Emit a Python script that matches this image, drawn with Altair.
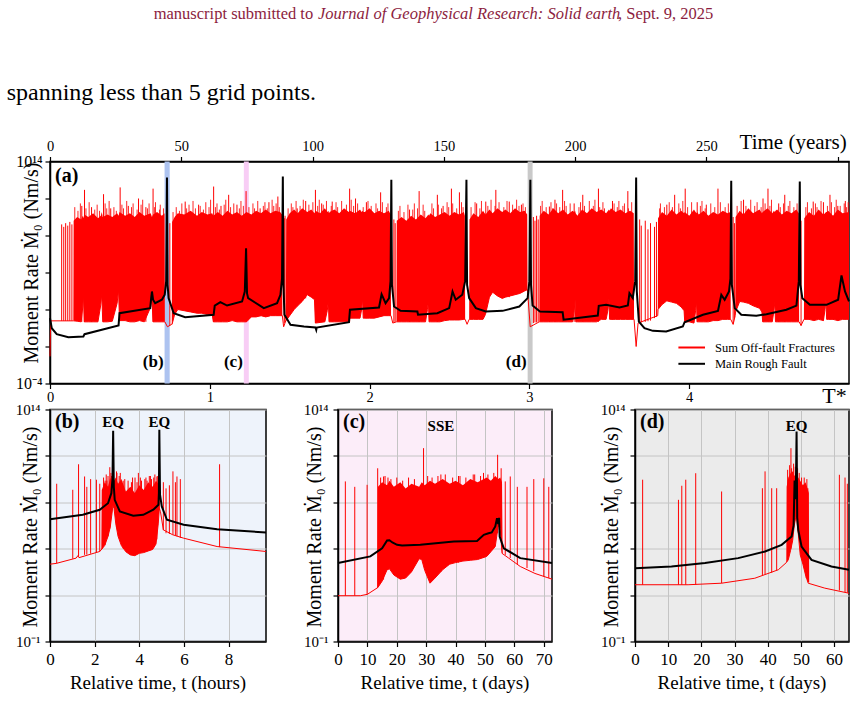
import altair as alt
import pandas as pd

SERIF = "Liberation Serif"
RED = "#ff0000"
HEAD_RED = "#8c1d40"

# ------------------------------------------------------------------
# (a) whole run against normalised time T* (log10 moment rate values)
# ------------------------------------------------------------------
T_STAR_END = 5.0
YEARS_AT_END = 304.3
TSTAR_TICKS = [0, 1, 2, 3, 4]
YEAR_TICKS = [0, 50, 100, 150, 200, 250, 300]

# main rough fault: (T*, log10 Mdot)
FAULT_A = [
    (0.000, 1.3), (0.011, 0.48), (0.042, 0.0), (0.115, -0.25), (0.209, -0.19),
    (0.216, 0.0), (0.429, 0.70), (0.435, 1.70), (0.627, 2.11), (0.633, 2.9),
    (0.638, 3.46), (0.645, 2.8), (0.658, 2.51), (0.700, 2.79), (0.718, 3.2),
    (0.727, 4.3), (0.732, 12.7), (0.736, 4.0), (0.742, 2.92), (0.774, 1.70),
    (0.846, 1.38), (1.024, 1.57), (1.031, 2.32), (1.066, 2.59), (1.108, 2.32),
    (1.202, 2.65), (1.219, 3.46), (1.227, 6.97), (1.233, 3.3), (1.240, 2.92),
    (1.338, 2.11), (1.421, 2.51), (1.442, 3.19), (1.452, 4.5), (1.457, 12.78),
    (1.461, 4.0), (1.467, 1.57), (1.505, 0.76), (1.589, 0.62), (1.661, 0.54),
    (1.666, 0.35), (1.669, 0.54), (1.871, 0.97), (1.877, 1.98), (2.059, 2.16),
    (2.075, 3.24), (2.100, 2.51), (2.122, 2.92), (2.131, 4.3), (2.136, 12.52),
    (2.140, 4.0), (2.153, 2.24), (2.194, 1.89), (2.299, 1.84), (2.303, 1.57),
    (2.424, 1.70), (2.498, 2.11), (2.519, 3.46), (2.539, 2.79), (2.580, 3.2),
    (2.598, 4.3), (2.606, 12.52), (2.610, 4.0), (2.623, 2.92), (2.665, 2.11),
    (2.727, 1.84), (2.832, 1.89), (2.937, 2.24), (2.989, 2.92), (3.000, 4.3),
    (3.006, 12.52), (3.010, 4.0), (3.020, 2.32), (3.066, 1.84), (3.208, 1.78),
    (3.214, 1.17), (3.428, 1.51), (3.434, 2.30), (3.480, 2.38), (3.564, 2.16),
    (3.616, 2.32), (3.626, 3.32), (3.647, 2.92), (3.662, 4.3), (3.668, 12.70),
    (3.672, 3.5), (3.685, 1.02), (3.720, 0.48), (3.773, 0.27), (3.856, 0.21),
    (3.960, 0.62), (3.971, 0.97), (4.086, 1.57), (4.180, 1.89), (4.201, 3.19),
    (4.222, 2.79), (4.249, 3.46), (4.258, 4.5), (4.263, 12.43), (4.267, 4.0),
    (4.285, 2.11), (4.326, 1.57), (4.420, 1.49), (4.483, 1.62), (4.608, 1.98),
    (4.671, 2.32), (4.686, 4.3), (4.692, 12.38), (4.696, 4.0), (4.708, 2.92),
    (4.755, 2.38), (4.859, 2.38), (4.932, 2.79), (4.953, 4.76), (4.975, 3.46),
    (5.000, 2.65),
]

# summed off-fault fractures: dense band (T*, upper envelope, lower envelope)
FRAC_A = [
    (0.000, -1.8, -1.8), (0.004, 1.08, 1.08), (0.146, 1.08, 1.08),
    (0.148, 9.2, 1.08), (0.170, 9.5, 1.05), (0.195, 9.3, 1.0), (0.205, 9.6, 2.2),
    (0.209, 9.4, 3.3), (0.214, 9.7, 1.0), (0.240, 9.5, 1.0), (0.270, 9.8, 1.0),
    (0.300, 9.4, 1.0), (0.318, 9.6, 2.4), (0.324, 9.9, 3.3), (0.330, 9.5, 1.0),
    (0.360, 9.7, 1.0), (0.390, 9.5, 1.05), (0.420, 9.8, 2.5), (0.429, 9.6, 3.6),
    (0.435, 9.9, 1.1), (0.470, 9.6, 1.1), (0.500, 9.8, 1.0), (0.530, 9.5, 1.0),
    (0.560, 9.9, 1.1), (0.590, 9.6, 1.0), (0.630, 9.8, 2.2), (0.638, 9.5, 2.9),
    (0.645, 9.7, 1.0), (0.670, 9.9, 1.0), (0.700, 9.6, 1.0), (0.717, 9.8, 1.0),
    (0.719, 1.0, 1.0), (0.735, 0.6, 0.6), (0.762, 0.8, 0.8),
    (0.764, 9.1, 0.8), (0.780, 9.5, 1.6), (0.800, 9.8, 2.0), (0.840, 9.7, 1.9),
    (0.880, 10.0, 1.8), (0.920, 9.6, 1.7), (0.950, 9.9, 1.7), (0.985, 9.7, 1.6),
    (1.015, 9.8, 1.6), (1.022, 9.6, 1.0), (1.050, 9.9, 1.0), (1.080, 9.6, 1.0),
    (1.110, 10.0, 1.0), (1.140, 9.7, 1.1), (1.170, 9.9, 1.0), (1.200, 9.6, 1.0),
    (1.230, 9.9, 1.0), (1.260, 9.7, 1.4), (1.290, 10.0, 1.4), (1.320, 9.8, 1.5),
    (1.350, 10.1, 1.4), (1.380, 9.8, 1.5), (1.410, 10.0, 1.5), (1.440, 9.9, 1.5),
    (1.452, 9.7, 1.5), (1.454, 1.5, 1.5), (1.462, 0.6, 0.6), (1.476, 1.1, 1.1),
    (1.478, 9.3, 1.1), (1.500, 9.8, 1.5), (1.528, 10.1, 2.0), (1.550, 9.8, 2.3),
    (1.578, 10.2, 2.65), (1.610, 9.9, 3.2), (1.635, 10.1, 3.0), (1.655, 9.8, 2.8),
    (1.661, 10.0, 0.9), (1.690, 9.8, 0.95), (1.720, 10.2, 1.0), (1.735, 9.9, 1.9),
    (1.742, 10.0, 2.7), (1.746, 9.8, 1.0), (1.750, 9.9, 1.0), (1.780, 10.1, 1.0),
    (1.810, 9.8, 1.0), (1.840, 10.2, 1.0), (1.870, 9.9, 1.0), (1.876, 10.0, 1.3),
    (1.910, 9.8, 1.3), (1.940, 10.1, 1.3), (1.950, 9.9, 2.0), (1.956, 10.0, 2.9),
    (1.960, 9.9, 1.3), (1.970, 9.9, 1.3), (2.000, 10.2, 1.3), (2.030, 9.8, 1.3),
    (2.060, 10.0, 1.4), (2.090, 9.8, 1.5), (2.120, 10.0, 1.5), (2.132, 9.7, 1.5),
    (2.134, 1.5, 1.5), (2.145, 0.9, 0.9), (2.168, 1.0, 1.0),
    (2.170, 9.2, 1.0), (2.200, 9.5, 1.0), (2.230, 9.2, 1.0), (2.260, 9.6, 1.0),
    (2.290, 9.3, 1.0), (2.320, 9.7, 1.0), (2.350, 9.4, 1.0), (2.362, 9.6, 2.0),
    (2.368, 9.7, 2.7), (2.372, 9.6, 1.0), (2.380, 9.8, 1.0), (2.410, 9.5, 1.0),
    (2.440, 9.7, 1.0), (2.470, 9.9, 1.1), (2.500, 9.6, 1.15), (2.530, 9.9, 1.15),
    (2.560, 9.7, 1.15), (2.590, 9.9, 1.2), (2.596, 9.6, 1.2), (2.598, 1.2, 1.2),
    (2.610, 0.8, 0.8), (2.623, 1.2, 1.2),
    (2.625, 9.3, 1.2), (2.650, 9.8, 1.2), (2.680, 9.5, 1.2), (2.710, 10.0, 1.2),
    (2.725, 9.7, 1.6), (2.750, 10.1, 3.0), (2.770, 9.8, 3.4), (2.800, 10.2, 3.1),
    (2.830, 9.9, 2.9), (2.850, 10.1, 3.0), (2.880, 9.8, 3.1), (2.910, 10.2, 3.2),
    (2.940, 9.9, 3.3), (2.970, 10.0, 3.5), (2.986, 9.7, 3.6), (2.988, 3.6, 3.6),
    (3.005, 0.6, 0.6), (3.062, 1.0, 1.0),
    (3.064, 9.6, 1.0), (3.090, 10.0, 1.0), (3.120, 9.7, 1.0), (3.150, 10.2, 1.0),
    (3.180, 9.8, 1.0), (3.210, 10.1, 1.0), (3.240, 9.7, 1.0), (3.270, 10.0, 1.0),
    (3.280, 9.9, 1.9), (3.286, 10.0, 2.8), (3.290, 9.8, 1.0), (3.300, 9.6, 1.0),
    (3.330, 10.1, 1.0), (3.360, 9.8, 1.0), (3.390, 10.2, 1.0), (3.420, 9.9, 1.0),
    (3.450, 10.1, 1.2), (3.480, 9.8, 1.2), (3.492, 10.0, 2.0), (3.498, 10.1, 2.9),
    (3.502, 10.0, 1.2), (3.510, 10.2, 1.2), (3.540, 9.9, 1.2), (3.570, 10.1, 1.2),
    (3.600, 9.8, 1.2), (3.630, 10.0, 1.2), (3.653, 9.8, 1.2), (3.655, 1.2, 1.2),
    (3.668, -1.0, -1.0), (3.680, 0.9, 0.9), (3.803, 1.5, 1.5),
    (3.805, 9.4, 2.0), (3.830, 9.9, 2.4), (3.860, 9.6, 2.7), (3.890, 10.1, 2.6),
    (3.920, 9.7, 2.5), (3.950, 10.0, 2.2), (3.968, 9.8, 1.9), (3.972, 9.9, 1.0),
    (4.000, 9.6, 1.0), (4.030, 10.1, 0.9), (4.040, 9.9, 1.9), (4.046, 9.8, 2.7),
    (4.050, 9.9, 1.0), (4.060, 9.7, 1.0), (4.090, 10.0, 1.0), (4.120, 9.6, 1.0),
    (4.150, 9.9, 1.1), (4.180, 9.7, 1.1), (4.210, 10.0, 1.2), (4.240, 9.8, 1.2),
    (4.258, 9.9, 1.2), (4.260, 1.2, 1.2), (4.275, 0.8, 0.8), (4.288, 1.5, 1.5),
    (4.290, 9.5, 1.8), (4.316, 10.0, 2.65), (4.340, 9.7, 2.6), (4.370, 10.2, 2.5),
    (4.400, 9.8, 2.3), (4.440, 10.1, 2.1), (4.455, 9.8, 1.8), (4.460, 9.9, 1.0),
    (4.490, 10.2, 1.0), (4.520, 9.8, 1.0), (4.530, 10.0, 1.9), (4.536, 9.9, 2.6),
    (4.540, 10.0, 1.0), (4.550, 10.1, 1.0), (4.580, 9.7, 1.0), (4.610, 10.0, 1.0),
    (4.640, 9.8, 1.0), (4.670, 10.1, 1.0), (4.686, 9.8, 1.0), (4.688, 1.0, 1.0),
    (4.700, 0.7, 0.7), (4.718, 1.2, 1.2),
    (4.720, 9.4, 1.2), (4.750, 9.9, 1.2), (4.780, 9.6, 1.1), (4.810, 10.1, 1.2),
    (4.840, 9.7, 1.1), (4.850, 9.8, 2.0), (4.856, 9.9, 2.8), (4.860, 9.9, 1.2),
    (4.870, 10.0, 1.2), (4.900, 9.6, 1.2), (4.930, 10.1, 1.1), (4.960, 9.8, 1.2),
    (5.000, 9.9, 1.2),
]

# individual fracture bursts: (T*, peak, foot)
BURST_A = [
    (0.073, 8.9, 1.08), (0.086, 8.7, 1.08), (0.098, 9.0, 1.08), (0.111, 8.8, 1.08),
    (0.124, 9.1, 1.08), (0.137, 8.9, 1.08), (0.199, 10.4, 1.0), (0.216, 11.7, 1.0),
    (0.260, 10.3, 1.0), (0.335, 11.35, 1.0), (0.380, 10.2, 1.0), (0.439, 11.9, 1.1),
    (0.490, 10.4, 1.0), (0.554, 11.0, 1.1), (0.600, 10.3, 1.0), (0.645, 11.8, 1.0),
    (0.750, 9.0, 0.7), (0.846, 10.75, 1.9), (0.930, 10.5, 1.7), (1.024, 11.97, 1.0),
    (1.070, 10.4, 1.0), (1.118, 11.3, 1.0), (1.170, 10.5, 1.0), (1.227, 11.6, 1.0),
    (1.315, 10.2, 1.45), (1.370, 10.7, 1.45), (1.426, 11.16, 1.5), (1.466, 9.4, 0.9),
    (1.471, 9.6, 1.0), (1.547, 10.2, 2.3), (1.600, 10.8, 2.9), (1.661, 11.7, 0.9),
    (1.700, 10.6, 1.0), (1.766, 10.75, 1.0), (1.875, 11.8, 1.0), (1.912, 11.0, 1.3),
    (1.980, 10.7, 1.3), (2.069, 11.5, 1.4), (2.152, 9.3, 0.95), (2.160, 9.0, 1.0),
    (2.250, 10.1, 1.0), (2.310, 11.6, 1.0), (2.424, 11.3, 1.0), (2.460, 10.4, 1.1),
    (2.512, 11.8, 1.15), (2.562, 11.5, 1.15), (2.670, 10.6, 1.2), (2.727, 10.75, 1.8),
    (2.790, 11.7, 3.3), (2.874, 10.75, 3.0), (2.950, 10.5, 3.4), (3.025, 9.5, 0.9),
    (3.035, 9.2, 0.95), (3.045, 9.6, 0.95), (3.055, 9.3, 1.0), (3.125, 10.35, 1.0),
    (3.160, 10.9, 1.0), (3.208, 11.7, 1.0), (3.280, 10.6, 1.0), (3.334, 11.3, 1.0),
    (3.432, 11.8, 1.0), (3.520, 10.8, 1.2), (3.616, 11.6, 1.2), (3.690, 9.3, 0.9),
    (3.700, 8.8, 0.95), (3.725, 9.2, 1.0), (3.742, 8.5, 1.05), (3.758, 9.0, 1.1),
    (3.783, 8.7, 1.3), (3.795, 9.1, 1.4), (3.860, 10.5, 2.7), (3.909, 11.3, 2.55),
    (3.975, 11.8, 1.0), (4.050, 10.7, 1.0), (4.107, 10.5, 1.0), (4.180, 11.8, 1.1),
    (4.275, 9.5, 0.8), (4.283, 9.0, 1.3), (4.340, 10.9, 2.6), (4.462, 11.0, 1.0),
    (4.493, 11.8, 1.0), (4.560, 10.6, 1.0), (4.598, 11.3, 1.0), (4.700, 9.2, 0.7),
    (4.776, 10.75, 1.15), (4.840, 10.7, 1.1), (4.881, 11.3, 1.2), (4.930, 10.4, 1.1),
    (4.977, 10.8, 1.2),
]

# ragged fringe of short events along the top of the band: (T*, peak)
FRINGE_A = [
    (0.155, 10.3), (0.175, 10.0), (0.190, 10.6), (0.225, 10.2), (0.245, 10.7),
    (0.280, 10.1), (0.295, 10.5), (0.310, 10.0), (0.345, 10.6), (0.355, 10.2),
    (0.370, 10.8), (0.400, 10.3), (0.415, 10.0), (0.450, 10.5), (0.460, 10.2),
    (0.480, 10.8), (0.510, 10.3), (0.520, 10.6), (0.545, 10.1), (0.570, 10.5),
    (0.580, 10.9), (0.610, 10.2), (0.620, 10.6), (0.655, 10.3), (0.660, 10.7),
    (0.685, 10.1), (0.690, 10.5), (0.710, 10.2),
    (0.770, 9.9), (0.790, 10.3), (0.810, 10.0), (0.825, 10.6), (0.855, 10.2),
    (0.870, 10.5), (0.895, 10.8), (0.910, 10.2), (0.940, 10.4), (0.960, 10.1),
    (0.975, 10.7), (0.995, 10.3), (1.005, 10.9), (1.035, 10.3), (1.045, 10.6),
    (1.060, 10.1), (1.090, 10.5), (1.100, 10.9), (1.130, 10.3), (1.150, 10.6),
    (1.185, 10.2), (1.195, 10.8), (1.210, 10.4), (1.245, 10.3), (1.270, 10.6),
    (1.280, 10.2), (1.300, 10.8), (1.335, 10.4), (1.345, 10.7), (1.360, 10.2),
    (1.390, 10.9), (1.400, 10.4), (1.415, 10.6), (1.435, 10.3),
    (1.490, 10.2), (1.510, 10.6), (1.520, 10.3), (1.540, 10.8), (1.565, 10.4),
    (1.585, 10.9), (1.620, 10.5), (1.645, 10.7), (1.675, 10.4), (1.685, 10.9),
    (1.710, 10.5), (1.730, 10.8), (1.760, 10.4), (1.790, 10.7), (1.800, 10.3),
    (1.825, 10.8), (1.855, 10.5), (1.885, 10.9), (1.900, 10.4), (1.925, 10.6),
    (1.960, 10.3), (1.990, 10.8), (2.010, 10.4), (2.040, 10.6), (2.050, 10.2),
    (2.080, 10.7), (2.105, 10.3), (2.115, 10.6),
    (2.180, 10.0), (2.190, 10.4), (2.215, 9.9), (2.240, 10.5), (2.270, 10.1),
    (2.280, 10.6), (2.300, 10.2), (2.335, 10.5), (2.345, 10.0), (2.390, 10.6),
    (2.400, 10.2), (2.430, 10.5), (2.450, 10.2), (2.485, 10.7), (2.495, 10.3),
    (2.520, 10.6), (2.545, 10.2), (2.575, 10.7), (2.585, 10.3),
    (2.635, 10.3), (2.660, 10.7), (2.690, 10.2), (2.700, 10.8), (2.740, 10.4),
    (2.760, 10.9), (2.785, 10.4), (2.810, 10.7), (2.840, 10.3), (2.860, 10.8),
    (2.895, 10.5), (2.920, 10.9), (2.935, 10.4), (2.960, 10.6), (2.975, 10.3),
    (3.070, 10.4), (3.080, 10.8), (3.105, 10.3), (3.135, 10.7), (3.145, 10.2),
    (3.170, 10.6), (3.190, 10.3), (3.220, 10.8), (3.230, 10.4), (3.255, 10.6),
    (3.310, 10.3), (3.320, 10.7), (3.345, 10.4), (3.375, 10.8), (3.400, 10.4),
    (3.410, 10.9), (3.440, 10.3), (3.460, 10.7), (3.470, 10.2), (3.530, 10.6),
    (3.550, 10.3), (3.560, 10.8), (3.585, 10.4), (3.595, 10.6), (3.620, 10.2),
    (3.640, 10.7),
    (3.815, 10.2), (3.820, 10.6), (3.845, 10.3), (3.875, 10.7), (3.895, 10.3),
    (3.935, 10.6), (3.945, 10.2), (3.960, 10.8), (3.990, 10.3), (4.015, 10.7),
    (4.070, 10.4), (4.080, 10.8), (4.100, 10.2), (4.135, 10.6), (4.160, 10.3),
    (4.195, 10.7), (4.225, 10.3), (4.245, 10.6),
    (4.300, 10.4), (4.325, 10.8), (4.355, 10.4), (4.385, 10.9), (4.410, 10.4),
    (4.425, 10.7), (4.450, 10.3), (4.475, 10.6), (4.505, 10.4), (4.515, 10.9),
    (4.570, 10.3), (4.590, 10.6), (4.620, 10.4), (4.630, 10.8), (4.655, 10.3),
    (4.675, 10.6),
    (4.730, 10.3), (4.740, 10.7), (4.765, 10.2), (4.790, 10.6), (4.800, 10.3),
    (4.825, 10.8), (4.865, 10.4), (4.890, 10.7), (4.910, 10.3), (4.920, 10.9),
    (4.945, 10.4), (4.970, 10.6), (4.985, 10.3), (4.995, 10.7),
]
FRINGE_A_FOOT = 8.5

# windows zoomed in the lower panels
WIN_NAME = ["(b)", "(c)", "(d)"]
WIN_T0 = [0.717, 1.213, 2.989]
WIN_T1 = [0.749, 1.244, 3.020]
WIN_COLOR = ["#adc3f0", "#f8cdf5", "#c9c9c9"]

# ------------------------------------------------------------------
# (b) two earthquakes, time in hours
# ------------------------------------------------------------------
FAULT_B = [
    (0.0, 6.91), (1.47, 7.19), (2.23, 7.52), (2.60, 7.94), (2.75, 8.59), (2.80, 9.5),
    (2.83, 12.62), (2.86, 9.0), (2.90, 8.16), (3.13, 7.41), (3.73, 7.13), (4.18, 7.19),
    (4.63, 7.52), (4.86, 7.84), (4.88, 8.6), (4.90, 12.69), (4.93, 8.5), (5.01, 7.73),
    (5.24, 6.87), (5.99, 6.55), (7.49, 6.26), (9.68, 6.05),
]
FLOOR_B = [
    (0.0, 4.0), (0.28, 4.05), (1.17, 4.39), (1.25, 4.55), (1.30, 4.42), (2.23, 4.82),
    (2.45, 5.2), (2.60, 5.8), (2.70, 6.4), (2.78, 7.3), (2.82, 7.8), (2.87, 7.6),
    (2.95, 6.6), (3.05, 5.8), (3.20, 5.2), (3.40, 4.8), (3.60, 4.6), (3.80, 4.55),
    (4.00, 4.7), (4.20, 4.75), (4.40, 4.85), (4.60, 4.95), (4.75, 5.3), (4.85, 6.6),
    (4.90, 7.6), (4.95, 7.4), (5.08, 6.22), (5.50, 5.9), (5.99, 5.68), (7.49, 5.14),
    (9.68, 4.82),
]
BAND_B = [
    (2.30, 4.9, 4.9), (2.32, 8.8, 4.95), (2.45, 9.3, 5.2), (2.60, 9.0, 5.8),
    (2.70, 9.6, 6.4), (2.78, 9.2, 7.3), (2.82, 9.5, 7.8), (2.87, 9.4, 7.6),
    (2.95, 9.6, 6.6), (3.05, 9.2, 5.8), (3.20, 9.5, 5.2), (3.40, 8.7, 4.8),
    (3.60, 9.0, 4.6), (3.80, 8.6, 4.55), (4.00, 9.1, 4.7), (4.20, 8.8, 4.75),
    (4.40, 9.3, 4.85), (4.60, 9.0, 4.95), (4.75, 9.4, 5.3), (4.85, 9.2, 6.6),
    (4.90, 9.3, 7.6), (4.93, 7.5, 7.5),
]
BURST_B = [
    (0.30, 9.2, 4.05), (1.02, 8.81, 4.35), (1.28, 10.46, 4.5), (1.55, 9.67, 4.6),
    (1.65, 9.0, 4.62), (1.82, 9.5, 4.68), (2.08, 9.46, 4.78), (2.23, 9.2, 4.82),
    (2.35, 8.8, 5.0), (2.47, 9.4, 5.25), (2.60, 9.7, 5.8), (2.68, 10.27, 6.3),
    (2.98, 10.0, 6.4), (3.28, 9.4, 5.0), (3.81, 9.6, 4.6), (3.96, 9.9, 4.7),
    (4.25, 9.5, 4.8), (4.45, 9.7, 4.9), (4.79, 9.67, 5.6), (5.08, 9.3, 6.2),
    (5.20, 8.9, 6.0), (5.35, 9.1, 5.95), (5.51, 10.0, 5.9), (5.62, 9.3, 5.85),
    (5.69, 9.67, 5.8), (5.84, 9.5, 5.7), (7.60, 10.46, 5.1),
    (2.40, 9.6, 8.3), (2.52, 9.8, 8.3), (2.55, 9.4, 8.3), (2.73, 9.9, 8.3),
    (2.76, 9.7, 8.3), (3.00, 9.9, 8.3), (3.10, 9.7, 8.3), (3.15, 9.9, 8.3),
    (3.35, 9.5, 8.3), (3.50, 9.4, 8.3), (3.65, 9.3, 8.3), (3.70, 9.6, 8.3),
    (3.90, 9.3, 8.3), (4.05, 9.6, 8.3), (4.10, 9.4, 8.3), (4.30, 9.6, 8.3),
    (4.35, 9.4, 8.3), (4.50, 9.7, 8.3), (4.55, 9.5, 8.3), (4.65, 9.6, 8.3),
    (4.70, 9.8, 8.3), (4.83, 9.7, 8.3),
]
NOTES_B = [(2.83, "EQ"), (4.90, "EQ")]

# ------------------------------------------------------------------
# (c) slow slip event, time in days
# ------------------------------------------------------------------
FAULT_C = [
    (0.0, 4.07), (11.0, 4.5), (15.0, 5.03), (16.7, 5.53), (17.5, 5.55), (18.5, 5.4),
    (20.1, 5.25), (21.8, 5.2), (28.0, 5.25), (39.4, 5.47), (47.3, 5.5), (49.6, 5.9),
    (51.2, 6.0), (52.3, 6.05), (53.5, 6.44), (54.1, 6.97), (54.5, 6.6), (54.8, 7.0),
    (55.0, 5.79), (56.4, 5.03), (62.0, 4.39), (72.8, 4.07),
]
FLOOR_C = [
    (0.0, 1.96), (7.6, 1.96), (10.0, 2.05), (13.3, 2.46), (13.6, 2.5), (15.0, 2.9),
    (16.7, 3.64), (17.5, 3.7), (19.0, 3.3), (21.2, 3.03), (23.0, 3.1), (25.0, 3.5),
    (27.6, 4.35), (28.5, 4.3), (29.5, 3.6), (31.3, 2.77), (33.0, 3.1), (35.6, 3.64),
    (38.0, 4.0), (40.0, 4.1), (42.5, 4.2), (45.0, 4.25), (47.5, 4.3), (50.6, 4.5),
    (52.0, 4.8), (53.5, 5.14), (54.5, 6.5), (55.2, 6.3), (55.8, 4.7), (58.0, 4.4),
    (62.0, 3.85), (67.0, 3.4), (72.8, 3.03),
]
BAND_C = [
    (13.4, 2.45, 2.45), (13.6, 9.0, 2.5), (15.0, 9.3, 2.9), (16.7, 9.1, 3.64),
    (17.5, 9.4, 3.7), (19.0, 9.0, 3.3), (21.2, 9.3, 3.03), (23.0, 8.9, 3.1),
    (25.0, 9.2, 3.5), (27.6, 9.0, 4.35), (28.5, 9.3, 4.3), (29.5, 9.1, 3.6),
    (31.3, 9.4, 2.77), (33.0, 9.2, 3.1), (35.6, 9.5, 3.64), (38.0, 9.2, 4.0),
    (40.0, 9.4, 4.1), (42.5, 9.1, 4.2), (45.0, 9.5, 4.25), (47.5, 9.3, 4.3),
    (50.6, 9.6, 4.5), (52.0, 9.4, 4.8), (53.5, 9.7, 5.14), (54.5, 9.5, 6.5),
    (55.2, 9.6, 6.3), (55.8, 9.3, 4.7), (56.0, 4.7, 4.7),
]
BURST_C = [
    (2.5, 9.35, 1.96), (5.7, 9.0, 1.96), (9.9, 9.13, 2.04), (13.5, 10.2, 2.46),
    (15.5, 9.67, 3.0), (17.0, 9.6, 3.65), (29.1, 11.5, 4.0), (35.0, 9.8, 3.5),
    (41.0, 9.7, 4.1), (46.5, 9.8, 4.28), (54.3, 11.07, 6.0), (56.9, 9.35, 4.6),
    (58.6, 9.67, 4.4), (61.0, 9.0, 4.0), (64.3, 9.0, 3.75), (66.6, 9.5, 3.55),
    (70.0, 9.55, 3.2), (71.7, 9.0, 3.1),
    (14.5, 9.6, 8.5), (16.0, 9.7, 8.5), (18.0, 9.5, 8.5), (20.0, 9.6, 8.5),
    (22.0, 9.4, 8.5), (24.0, 9.6, 8.5), (26.0, 9.5, 8.5), (30.5, 9.7, 8.5),
    (32.0, 9.6, 8.5), (34.0, 9.7, 8.5), (36.5, 9.8, 8.5), (39.0, 9.6, 8.5),
    (41.5, 9.7, 8.5), (43.5, 9.6, 8.5), (46.0, 9.8, 8.5), (48.5, 9.7, 8.5),
    (49.5, 9.9, 8.5), (51.0, 9.8, 8.5), (53.0, 9.9, 8.5), (55.5, 10.2, 8.5),
]
NOTES_C = [(35.0, "SSE")]

# ------------------------------------------------------------------
# (d) earthquake preceded by quiescence, time in days
# ------------------------------------------------------------------
FAULT_D = [
    (0.0, 3.74), (11.0, 3.85), (21.1, 4.07), (31.1, 4.39), (39.2, 4.82), (44.2, 5.25),
    (47.2, 5.79), (47.8, 6.5), (48.1, 9.4), (48.3, 8.2), (48.5, 9.0), (48.7, 12.58),
    (48.9, 7.0), (49.2, 6.22), (50.2, 5.14), (53.2, 4.28), (59.2, 3.85), (64.5, 3.64),
]
FLOOR_D = [
    (0.0, 2.67), (16.0, 2.67), (26.1, 2.77), (36.1, 3.09), (43.2, 3.64), (45.6, 4.1),
    (46.2, 4.28), (46.9, 4.9), (47.5, 5.5), (48.0, 6.5), (48.6, 7.2), (49.2, 6.0),
    (49.8, 4.6), (50.6, 4.0), (51.4, 3.3), (52.2, 2.77), (57.2, 2.45), (64.5, 2.12),
]
BAND_D = [
    (45.6, 4.1, 4.1), (45.7, 9.0, 4.1), (46.2, 9.6, 4.28), (46.9, 9.9, 4.9),
    (47.5, 10.0, 5.5), (48.0, 9.7, 6.5), (48.6, 9.9, 7.2), (49.2, 9.6, 6.0),
    (49.8, 9.4, 4.6), (50.6, 9.1, 4.0), (51.4, 9.3, 3.3), (52.0, 8.9, 2.9),
    (52.4, 8.6, 2.8), (52.5, 2.8, 2.8),
]
BURST_D = [
    (2.3, 9.46, 2.67), (13.1, 8.16, 2.67), (14.1, 9.07, 2.67), (15.3, 9.46, 2.67),
    (18.3, 9.88, 2.68), (26.1, 8.7, 2.77), (38.4, 8.91, 3.3), (39.2, 10.0, 3.35),
    (41.2, 8.91, 3.45), (42.7, 8.91, 3.6), (47.0, 11.5, 5.0), (51.6, 9.07, 3.1),
    (52.1, 8.91, 2.9), (61.6, 9.78, 2.3), (63.3, 9.6, 2.2), (64.0, 9.2, 2.15),
    (46.0, 10.1, 8.5), (46.6, 10.4, 8.5), (47.2, 10.2, 8.5), (47.8, 10.5, 8.5),
    (48.3, 10.3, 8.5), (49.0, 10.2, 8.5), (49.5, 9.9, 8.5), (50.2, 9.6, 8.5),
    (51.0, 9.6, 8.5), (51.8, 9.5, 8.5),
]
NOTES_D = [(48.7, "EQ")]

Y_TITLE = "Moment Rate Ṁ₀ (Nm/s)"


def table(rows, cols, log_cols):
    df = pd.DataFrame(rows, columns=cols)
    for c in log_cols:
        df[c] = 10.0 ** df[c]
    return df


def text_at(s, x, y, size, weight="normal", align="left", baseline="middle",
            color="black", style="normal", angle=0):
    kw = dict(font=SERIF, fontSize=size, fontWeight=weight, align=align,
              baseline=baseline, color=color, fontStyle=style)
    if angle:
        kw["angle"] = angle
    return alt.Chart(pd.DataFrame({"s": [s]})).mark_text(**kw).encode(
        text="s:N", x=alt.value(x), y=alt.value(y))


# ------------------------------- panel (a)
W_A, H_A = 799, 222

xa_scale = alt.Scale(domain=[0, T_STAR_END], nice=False, zero=False)
xa_axis = alt.Axis(values=TSTAR_TICKS, title=None, grid=False, labelFontSize=14.5,
                   tickSize=5, labelPadding=2, labelFlush=False, labelOverlap=False)
ya_scale = alt.Scale(type="log", domain=[1e-4, 1e14], nice=False)
ya_axis = alt.Axis(values=[1e-4, 1e-1, 1e2, 1e5, 1e8, 1e11, 1e14], title=None,
                   grid=False, labelFontSize=16, tickSize=5, labelPadding=3,
                   labelFlush=False, labelOverlap=False,
                   labelExpr="datum.value > 1e13 ? '10¹⁴' : (datum.value < 1e-3 ? '10⁻⁴' : '')")


def xa(field):
    return alt.X(f"{field}:Q", scale=xa_scale, axis=xa_axis)


def ya(field):
    return alt.Y(f"{field}:Q", scale=ya_scale, axis=ya_axis)


fault_a = table(FAULT_A, ["t", "v"], ["v"])
frac_a = table(FRAC_A, ["t", "top", "floor"], ["top", "floor"])
burst_a = table(BURST_A, ["t", "top", "base"], ["top", "base"])
fringe_a = table(FRINGE_A, ["t", "top"], ["top"])
fringe_a["base"] = 10.0 ** FRINGE_A_FOOT
win_df = pd.DataFrame({"name": WIN_NAME, "t0": WIN_T0, "t1": WIN_T1, "c": WIN_COLOR})

windows = alt.Chart(win_df).mark_rect().encode(
    x=xa("t0"), x2="t1:Q", y=alt.value(0), y2=alt.value(H_A),
    color=alt.Color("c:N", scale=None))
band_a = alt.Chart(frac_a).mark_area(color=RED, opacity=1).encode(
    x=xa("t"), y=ya("top"), y2="floor:Q")
floor_a = alt.Chart(frac_a).mark_line(color=RED, strokeWidth=1).encode(
    x=xa("t"), y=ya("floor"))
fringe_rules = alt.Chart(fringe_a).mark_rule(color=RED, strokeWidth=1, opacity=0.85).encode(
    x=xa("t"), y=ya("top"), y2="base:Q")
bursts_a = alt.Chart(burst_a).mark_rule(color=RED, strokeWidth=1).encode(
    x=xa("t"), y=ya("top"), y2="base:Q")
line_a = alt.Chart(fault_a).mark_line(color="black", strokeWidth=2).encode(
    x=xa("t"), y=ya("v"))
win_labels = alt.Chart(win_df).mark_text(
    font=SERIF, fontSize=17, fontWeight="bold", align="right", baseline="middle", dx=-1
).encode(x=xa("t0"), y=alt.value(200.7), text="name:N")

years = alt.Chart(pd.DataFrame({"yr": YEAR_TICKS})).mark_point(opacity=0).encode(
    x=alt.X("yr:Q", scale=alt.Scale(domain=[0, YEARS_AT_END], nice=False, zero=False),
            axis=alt.Axis(orient="top", values=YEAR_TICKS, title=None, grid=False,
                          labelFontSize=14.5, tickSize=5, labelPadding=3,
                          labelFlush=False, labelOverlap=False,
                          labelExpr="datum.value == 300 ? '' : datum.label")))

legend_lines = [
    alt.Chart(pd.DataFrame({"k": [0]})).mark_rule(color=col, strokeWidth=2).encode(
        x=alt.value(628.4), x2=alt.value(655), y=alt.value(yy))
    for col, yy in [(RED, 186), ("black", 202.3)]
]
legend_text = [
    text_at("Sum Off-fault Fractures", 665, 186, 12.5),
    text_at("Main Rough Fault", 665, 202.3, 12.5),
]

# running header of the page: plain / italic journal name / plain
HEAD_Y = -155.5
HEAD_SIZE = 16.5
page_text = [
    text_at("manuscript submitted to", 103.7, HEAD_Y, HEAD_SIZE, baseline="top",
            color=HEAD_RED),
    text_at("Journal of Geophysical Research: Solid earth", 268.0, HEAD_Y, HEAD_SIZE,
            baseline="top", color=HEAD_RED, style="italic"),
    text_at(", Sept. 9, 2025", 568.0, HEAD_Y, HEAD_SIZE, baseline="top", color=HEAD_RED),
    text_at("spanning less than 5 grid points.", -43.3, -62, 24, baseline="alphabetic"),
]

panel_a = alt.layer(
    alt.layer(windows, band_a, floor_a, fringe_rules, bursts_a, line_a, win_labels),
    years,
    text_at("(a)", 5, 14, 20, weight="bold"),
    text_at("Time (years)", 796.7, -13, 21, align="right", baseline="alphabetic"),
    text_at("T*", 796.7, 241, 22, align="right", baseline="alphabetic"),
    text_at(Y_TITLE, -17.8, 101.5, 20, align="center", angle=270),
    *legend_lines, *legend_text, *page_text,
).resolve_scale(x="independent").properties(
    width=W_A, height=H_A,
    view=alt.ViewBackground(fill="white", stroke="black", strokeWidth=1.5))

# ------------------------------- lower panels
H_S = 232
ys_scale = alt.Scale(type="log", domain=[0.1, 1e14], nice=False)
ys_axis = alt.Axis(values=[0.1, 1e2, 1e5, 1e8, 1e11, 1e14], title=None, grid=True,
                   gridColor="#c4c4c4", gridWidth=1, labelFontSize=15, tickSize=5,
                   labelPadding=5, labelFlush=False, labelOverlap=False,
                   labelExpr="datum.value > 1e13 ? '10¹⁴' : (datum.value < 1 ? '10⁻¹' : '')")


def small_panel(letter, bg, width, x_end, x_ticks, x_title, fault, floor, band, bursts,
                notes, note_y, ytitle_x):
    xs = alt.Scale(domain=[0, x_end], nice=False, zero=False)
    xax = alt.Axis(values=x_ticks, title=None, grid=True, gridColor="#c4c4c4",
                   gridWidth=1, labelFontSize=17, tickSize=5, labelPadding=5,
                   labelFlush=False, labelOverlap=False)

    def X(f):
        return alt.X(f"{f}:Q", scale=xs, axis=xax)

    def Y(f):
        return alt.Y(f"{f}:Q", scale=ys_scale, axis=ys_axis)

    f_df = table(fault, ["t", "v"], ["v"])
    fl_df = table(floor, ["t", "v"], ["v"])
    b_df = table(band, ["t", "top", "floor"], ["top", "floor"])
    s_df = table(bursts, ["t", "top", "base"], ["top", "base"])
    n_df = pd.DataFrame(notes, columns=["t", "s"])

    layers = [
        alt.Chart(b_df).mark_area(color=RED, opacity=1).encode(
            x=X("t"), y=Y("top"), y2="floor:Q"),
        alt.Chart(fl_df).mark_line(color=RED, strokeWidth=1).encode(x=X("t"), y=Y("v")),
        alt.Chart(s_df).mark_rule(color=RED, strokeWidth=1).encode(
            x=X("t"), y=Y("top"), y2="base:Q"),
        alt.Chart(f_df).mark_line(color="black", strokeWidth=2).encode(x=X("t"), y=Y("v")),
        alt.Chart(n_df).mark_text(font=SERIF, fontSize=15, fontWeight="bold",
                                  baseline="middle").encode(
            x=X("t"), y=alt.value(note_y), text="s:N"),
        text_at(letter, 5, 12, 20, weight="bold"),
        text_at(Y_TITLE, ytitle_x, 117.5, 20, align="center", angle=270),
        text_at(x_title, width / 2, 273.7, 19, align="center"),
    ]
    return alt.layer(*layers).properties(
        width=width, height=H_S,
        view=alt.ViewBackground(fill=bg, stroke="black", strokeWidth=1.5))


panel_b = small_panel("(b)", "#eef3fb", 216, 9.68, [0, 2, 4, 6, 8],
                      "Relative time, t (hours)", FAULT_B, FLOOR_B, BAND_B, BURST_B,
                      NOTES_B, 12.7, -19.1)
panel_c = small_panel("(c)", "#fcedf9", 214, 72.8, [0, 10, 20, 30, 40, 50, 60, 70],
                      "Relative time, t (days)", FAULT_C, FLOOR_C, BAND_C, BURST_C,
                      NOTES_C, 16.3, -23.5)
panel_d = small_panel("(d)", "#ebebeb", 214, 64.5, [0, 10, 20, 30, 40, 50, 60],
                      "Relative time, t (days)", FAULT_D, FLOOR_D, BAND_D, BURST_D,
                      NOTES_D, 16.3, -23.3)

bottom = alt.hconcat(
    panel_b,
    alt.hconcat(panel_c, panel_d, spacing=83, bounds="flush"),
    spacing=72, bounds="flush")

chart = alt.vconcat(panel_a, bottom, spacing=26, bounds="flush").properties(
    padding={"left": 5, "top": 4.5, "right": 0, "bottom": 0},
    background="white",
).configure_axis(
    labelFont=SERIF, titleFont=SERIF, labelColor="black", domainColor="black",
    tickColor="black", domainWidth=1.5, tickWidth=1.2,
).configure_view(stroke="black", strokeWidth=1.5)

chart.save("out.html", embed_options={"renderer": "svg", "actions": False})
